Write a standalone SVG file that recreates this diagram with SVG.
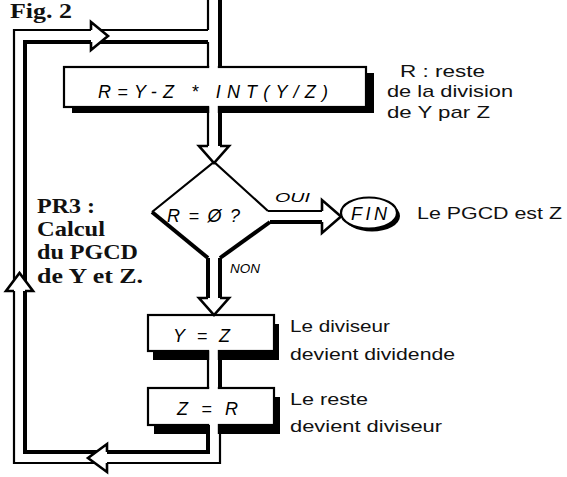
<svg xmlns="http://www.w3.org/2000/svg" width="567" height="477" viewBox="0 0 567 477">
<style>
.thin{fill:none;stroke:#000;stroke-width:2.2;stroke-linejoin:miter}
.thick{fill:none;stroke:#000;stroke-width:4;stroke-linejoin:miter}
.head{fill:#fff;stroke:#000;stroke-width:2.6;stroke-linejoin:miter}
.box{fill:#fff;stroke:#000;stroke-width:2.2}
.shadow{fill:#000}
.gap{fill:#fff}
.code{font-family:"Liberation Sans",Arial,sans-serif;font-style:italic;font-size:18px;fill:#000}
.small{font-family:"Liberation Sans",Arial,sans-serif;font-style:italic;font-size:12px;fill:#000}
.note{font-family:"Liberation Sans",Arial,sans-serif;font-size:17px;fill:#111}
.title{font-family:"Liberation Serif","Times New Roman",serif;font-weight:bold;font-size:21px;fill:#111}
</style>
<rect width="567" height="477" fill="#fff"/>

<text class="title" x="10" y="18" font-size="16" textLength="62" lengthAdjust="spacingAndGlyphs">Fig. 2</text>

<g id="box-reste">
<rect class="shadow" x="72" y="73" width="302" height="40"/>
<rect class="box" x="64" y="67" width="302" height="40"/>
<rect class="gap" x="209.2" y="65" width="8.6" height="4"/>
<rect class="gap" x="209.2" y="105" width="8.6" height="10"/>
<text class="code" x="98" y="98" font-size="19" textLength="230" lengthAdjust="spacing">R=Y-Z * INT(Y/Z)</text>
</g>

<g id="decision">
<path class="thin" d="M152,212 L214,162 L268,211"/>
<path class="thick" d="M152,212 L208,258"/>
<path class="thick" d="M270,222 L220,258"/>
<text class="code" x="167" y="222" font-size="19" textLength="73" lengthAdjust="spacing">R=Ø?</text>
</g>

<g id="fin">
<ellipse class="shadow" cx="372" cy="216" rx="28" ry="15.5"/>
<ellipse class="box" cx="369" cy="213" rx="28" ry="15.5"/>
<text class="code" x="351" y="220" font-size="17" textLength="36" lengthAdjust="spacing">FIN</text>
</g>

<g id="box-yz">
<rect class="shadow" x="153" y="324" width="126" height="36"/>
<rect class="box" x="148" y="315" width="126" height="36"/>
<rect class="gap" x="209.2" y="349" width="8.6" height="13"/>
<text class="code" x="173" y="342" font-size="19" textLength="57" lengthAdjust="spacing">Y=Z</text>
</g>

<g id="box-zr">
<rect class="shadow" x="154" y="397" width="126" height="37"/>
<rect class="box" x="148" y="388" width="126" height="37"/>
<rect class="gap" x="209.2" y="386" width="8.6" height="4"/>
<rect class="gap" x="209.2" y="423" width="8.6" height="14"/>
<text class="code" x="177" y="415" font-size="19" textLength="61" lengthAdjust="spacing">Z = R</text>
</g>

<g id="connectors">
<line class="thin" x1="208" y1="0" x2="208" y2="30"/>
<line class="thin" x1="208" y1="42" x2="208" y2="67"/>
<line class="thick" x1="220" y1="0" x2="220" y2="67"/>
<path class="thin" d="M208,30 H14 V463 H220 V425"/>
<path class="thick" d="M208,42 H25 V452 H208 V425"/>
<line class="thin" x1="208" y1="107" x2="208" y2="146"/>
<line class="thick" x1="220" y1="107" x2="220" y2="146"/>
<line class="thin" x1="268" y1="211" x2="322" y2="211"/>
<line class="thick" x1="270" y1="222" x2="322" y2="222"/>
<line class="thick" x1="208" y1="258" x2="208" y2="298"/>
<line class="thick" x1="220" y1="258" x2="220" y2="298"/>
<line class="thin" x1="208" y1="351" x2="208" y2="388"/>
<line class="thick" x1="220" y1="351" x2="220" y2="388"/>
<polyline class="head" points="91,30 91,22 108,36 91,50 91,42"/>
<polyline class="head" points="14,291 6,291 19.5,273 33,291 25,291"/>
<polyline class="head" points="107,452 107,444 88,458 107,472 107,463"/>
<polyline class="head" points="208,146 199,146 214,163 229,146 220,146"/>
<polyline class="head" points="322,211 322,200 341,216.5 322,233 322,222"/>
<polyline class="head" points="208,298 199,298 214,315 229,298 220,298"/>
<text class="small" x="275" y="202" textLength="35" lengthAdjust="spacingAndGlyphs">OUI</text>
<text class="small" x="230" y="273" textLength="30" lengthAdjust="spacingAndGlyphs">NON</text>
</g>

<g id="notes">
<text class="note" x="400" y="77" textLength="85" lengthAdjust="spacingAndGlyphs">R : reste</text>
<text class="note" x="387" y="97" textLength="126" lengthAdjust="spacingAndGlyphs">de la division</text>
<text class="note" x="387" y="118" textLength="103" lengthAdjust="spacingAndGlyphs">de Y par Z</text>
<text class="note" x="417" y="219" textLength="145" lengthAdjust="spacingAndGlyphs">Le PGCD est Z</text>
<text class="note" x="290" y="332" textLength="100" lengthAdjust="spacingAndGlyphs">Le diviseur</text>
<text class="note" x="290" y="360" textLength="165" lengthAdjust="spacingAndGlyphs">devient dividende</text>
<text class="note" x="290" y="405" textLength="78" lengthAdjust="spacingAndGlyphs">Le reste</text>
<text class="note" x="290" y="432" textLength="152" lengthAdjust="spacingAndGlyphs">devient diviseur</text>
<text class="title" x="37" y="213" textLength="58" lengthAdjust="spacingAndGlyphs">PR3 :</text>
<text class="title" x="37" y="236" textLength="68" lengthAdjust="spacingAndGlyphs">Calcul</text>
<text class="title" x="37" y="259" textLength="101" lengthAdjust="spacingAndGlyphs">du PGCD</text>
<text class="title" x="37" y="283" textLength="106" lengthAdjust="spacingAndGlyphs">de Y et Z.</text>
</g>
</svg>
